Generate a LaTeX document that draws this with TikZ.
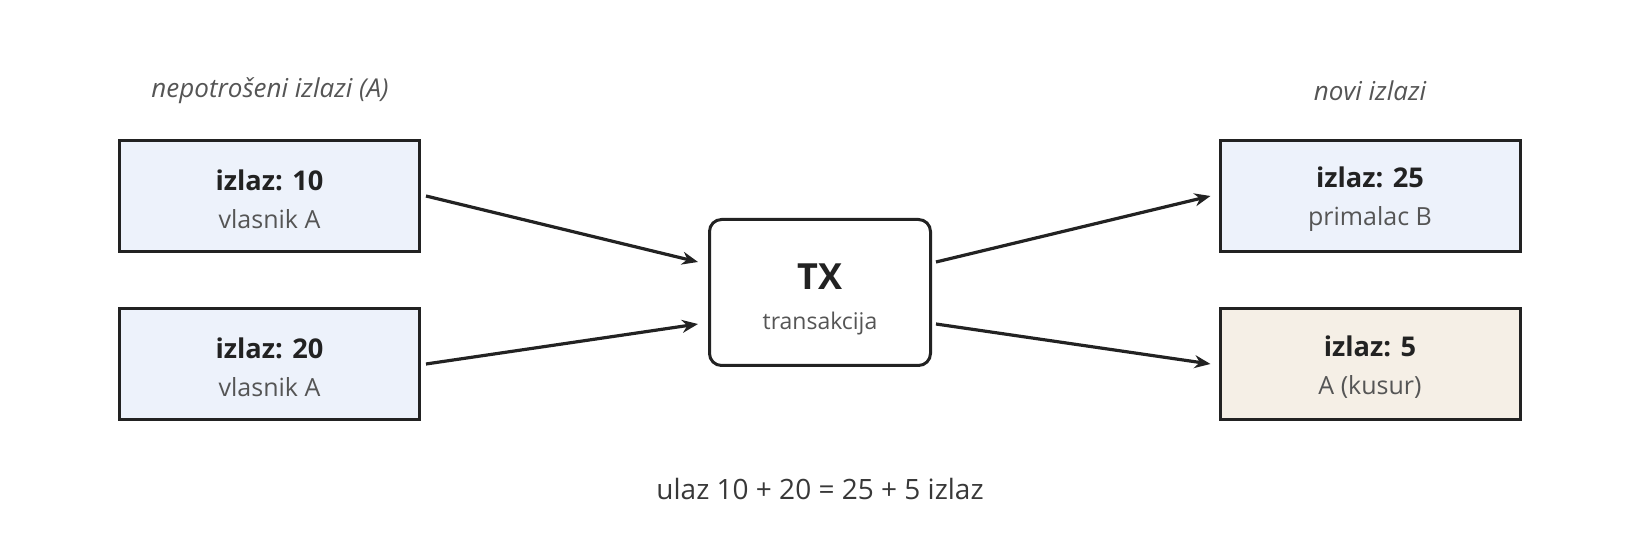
\documentclass[tikz,border=0pt]{standalone}
\usepackage{fontspec}
\setmainfont{Open Sans}
\usepackage{tikz}
\usetikzlibrary{arrows.meta}

\definecolor{ink}{HTML}{222222}
\definecolor{subink}{HTML}{555555}
\definecolor{bluefill}{HTML}{EDF2FB}
\definecolor{sandfill}{HTML}{F5EFE6}

\begin{document}
\begin{tikzpicture}[x=0.5pt,y=-0.5pt,
	outbox/.style={shape=rectangle,draw=ink,line width=1.5pt,fill=bluefill,
		minimum width=150pt,minimum height=55.5pt,align=center,inner sep=0pt},
	txbox/.style={shape=rectangle,draw=ink,line width=1.5pt,fill=white,rounded corners=6pt,
		minimum width=110.5pt,minimum height=73pt,align=center,inner sep=0pt},
	heading/.style={text=subink,font=\itshape\fontsize{13}{15}\selectfont},
	flow/.style={draw=ink,line width=1.6pt,-{Stealth[length=8pt,width=6.5pt]}}]
	\useasboundingbox (0,0) rectangle (1640,560);

	\node[heading] (left title)  at (270, 91) {nepotrošeni izlazi (A)};
	\node[heading] (right title) at (1370, 91) {novi izlazi};

	\node[outbox] (in10) at (269.5, 196) {\rule{0pt}{13.5pt}{\color{ink}\bfseries\fontsize{13.6}{16}\selectfont izlaz: 10}\\[7pt]{\color{subink}\fontsize{12.5}{14}\selectfont vlasnik A}};
	\node[outbox] (in20) at (269.5, 364) {\rule{0pt}{13.5pt}{\color{ink}\bfseries\fontsize{13.6}{16}\selectfont izlaz: 20}\\[7pt]{\color{subink}\fontsize{12.5}{14}\selectfont vlasnik A}};
	\node[txbox]  (tx)   at (820, 292.5) {\rule{0pt}{20pt}{\color{ink}\bfseries\fontsize{18}{21}\selectfont TX}\\[8pt]{\color{subink}\fontsize{11.5}{13}\selectfont transakcija}};
	\node[outbox] (out25) at (1370, 196) {\rule{0pt}{13.5pt}{\color{ink}\bfseries\fontsize{13.6}{16}\selectfont izlaz: 25}\\[7pt]{\color{subink}\fontsize{12.5}{14}\selectfont primalac B}};
	\node[outbox,fill=sandfill] (out5) at (1370, 364) {\rule{0pt}{13.5pt}{\color{ink}\bfseries\fontsize{13.6}{16}\selectfont izlaz: 5}\\[7pt]{\color{subink}\fontsize{12.5}{14}\selectfont A (kusur)}};

	\node[text=ink!90,font=\fontsize{14}{16}\selectfont] (sum) at (820, 489) {ulaz 10 + 20 = 25 + 5 izlaz};

	\path ([xshift=2.5pt]in10.east) edge[flow] ([xshift=-5pt,yshift=15.25pt]tx.west);
	\path ([xshift=2.5pt]in20.east) edge[flow] ([xshift=-5pt,yshift=-15.75pt]tx.west);
	\path ([xshift=2pt,yshift=15.25pt]tx.east) edge[flow] ([xshift=-4pt]out25.west);
	\path ([xshift=2pt,yshift=-15.75pt]tx.east) edge[flow] ([xshift=-4pt]out5.west);
\end{tikzpicture}
\end{document}
